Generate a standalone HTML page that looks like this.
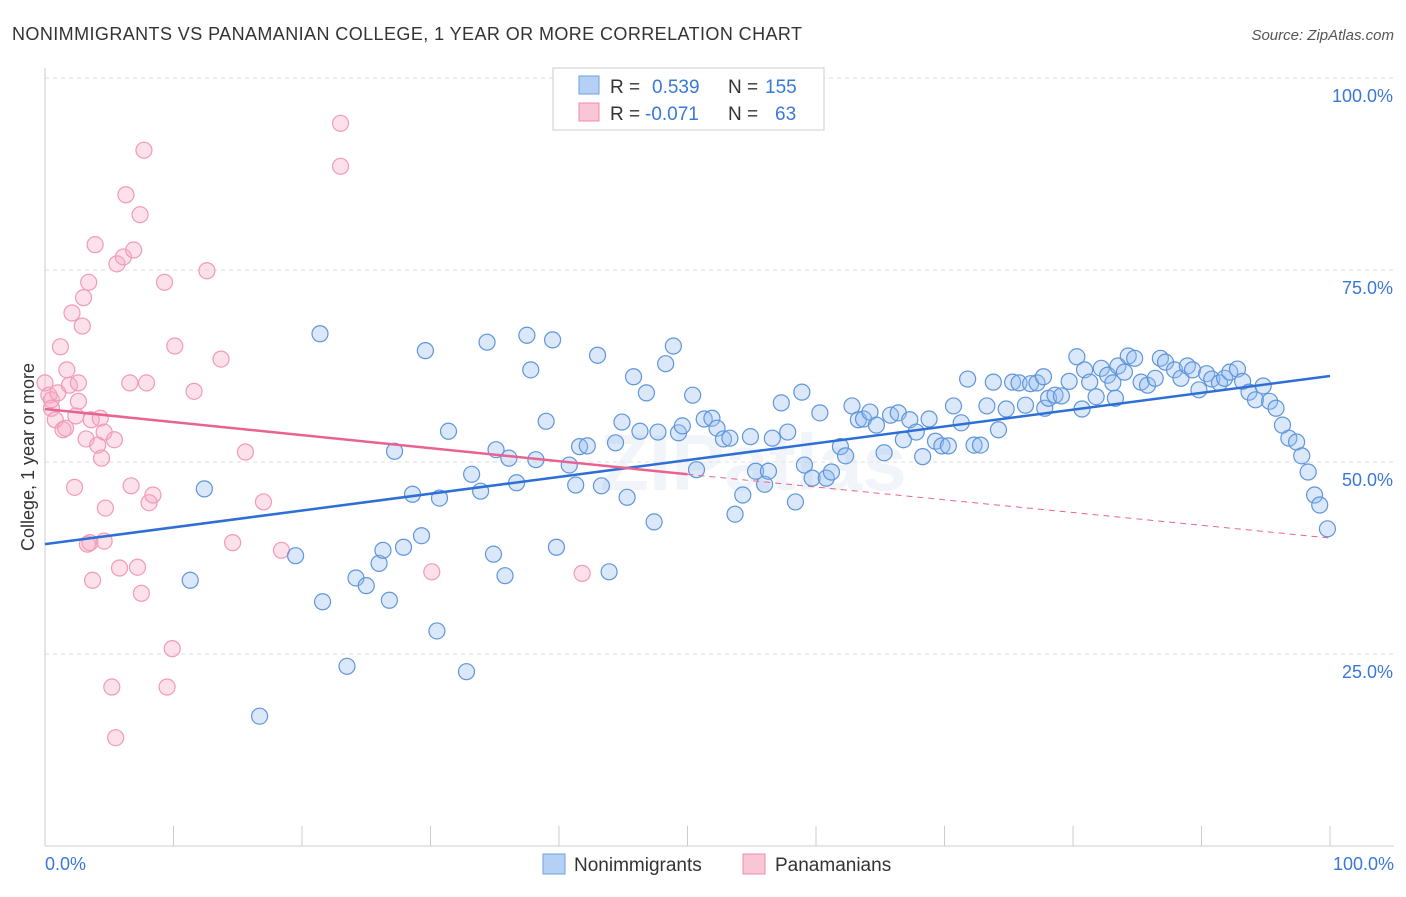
<!DOCTYPE html>
<html><head><meta charset="utf-8"><style>
body{margin:0;background:#fff;font-family:"Liberation Sans",sans-serif;}
svg text{font-family:"Liberation Sans",sans-serif;}
</style></head><body>
<svg id="chart" width="1406" height="892" viewBox="0 0 1406 892">
<text x="12" y="40" font-size="18" fill="#333" textLength="790" lengthAdjust="spacing">NONIMMIGRANTS VS PANAMANIAN COLLEGE, 1 YEAR OR MORE CORRELATION CHART</text>
<text x="1394" y="40" font-size="15" fill="#555" font-style="italic" text-anchor="end">Source: ZipAtlas.com</text>
<g id="grid"></g>
<text x="600" y="490" font-size="80" font-weight="bold" fill="#e4ebf3" opacity="0.5">ZIPatlas</text>
<g id="pts"></g>
<g id="trends"></g>
<text transform="translate(34,457) rotate(-90)" font-size="18" fill="#333" text-anchor="middle">College, 1 year or more</text>
<text x="45" y="870" font-size="18" fill="#3a78d8">0.0%</text>
<text x="1394" y="870" font-size="18" fill="#3a78d8" text-anchor="end">100.0%</text>
<g>
<rect x="553" y="68" width="271" height="62" fill="#fff" stroke="#ccc"/>
<rect x="579" y="76" width="20" height="18" fill="#b5d0f5" stroke="#6fa0e0"/>
<rect x="579" y="103" width="20" height="18" fill="#f9c6d6" stroke="#f08cab"/>
<text x="610" y="93" font-size="19" fill="#333">R = <tspan fill="#3a78d8" x="652">0.539</tspan><tspan x="728">N = </tspan><tspan fill="#3a78d8" x="765">155</tspan></text>
<text x="610" y="120" font-size="19" fill="#333">R = <tspan fill="#3a78d8" x="645">-0.071</tspan><tspan x="728">N = </tspan><tspan fill="#3a78d8" x="775">63</tspan></text>
</g>
<g>
<rect x="543" y="854" width="22" height="20" fill="#b5d0f5" stroke="#6fa0e0"/>
<text x="574" y="871" font-size="19" fill="#333">Nonimmigrants</text>
<rect x="743" y="854" width="22" height="20" fill="#f9c6d6" stroke="#f08cab"/>
<text x="775" y="871" font-size="19" fill="#333">Panamanians</text>
</g>
</svg>
<script>
const xTicks=[0,10,20,30,40,50,60,70,80,90,100];
const yTicks=[25,50,75,100];
const yTickLabels=["25.0%","50.0%","75.0%","100.0%"];
const blueX=[11.3,12.4,16.7,19.5,21.4,21.6,23.5,24.2,25.0,26.0,26.3,26.8,27.2,27.9,28.6,29.3,29.6,30.5,30.7,31.4,32.8,33.2,33.9,34.4,34.9,35.1,35.8,36.1,36.7,37.5,37.8,38.2,39.0,39.5,39.8,40.8,41.3,41.6,42.2,43.0,43.3,43.9,44.4,44.9,45.3,45.8,46.3,46.8,47.4,47.7,48.3,48.9,49.3,49.6,50.4,50.7,51.3,51.9,52.3,52.8,53.3,53.7,54.3,54.9,55.3,56.0,56.3,56.6,57.3,57.8,58.4,58.9,59.1,59.7,60.3,60.8,61.2,61.9,62.3,62.8,63.3,63.7,64.2,64.7,65.3,65.8,66.4,66.8,67.3,67.8,68.3,68.8,69.3,69.8,70.3,70.7,71.3,71.8,72.3,72.8,73.3,73.8,74.2,74.8,75.3,75.8,76.3,76.7,77.2,77.7,77.8,78.1,78.6,79.1,79.7,80.3,80.7,80.9,81.3,81.8,82.2,82.7,83.1,83.3,83.5,84.0,84.3,84.8,85.3,85.8,86.4,86.8,87.2,87.9,88.4,88.9,89.3,89.8,90.4,90.8,91.4,91.8,92.2,92.8,93.2,93.7,94.2,94.8,95.3,95.8,96.3,96.8,97.4,97.8,98.3,98.8,99.2,99.8];
const blueY=[34.6,46.5,16.9,37.8,66.7,31.8,23.4,34.9,33.9,36.8,38.5,32.0,51.4,38.9,45.8,40.4,64.5,28.0,45.3,54.0,22.7,48.4,46.2,65.6,38.0,51.6,35.2,50.5,47.3,66.5,62.0,50.3,55.3,65.9,38.9,49.6,47.0,52.0,52.1,63.9,46.9,35.7,52.5,55.2,45.4,61.1,54.0,59.0,42.2,53.9,62.8,65.1,53.8,54.7,58.7,49.0,55.6,55.7,54.4,53.0,53.1,43.2,45.7,53.3,48.8,47.1,48.8,53.1,57.7,53.9,44.8,59.1,49.6,47.9,56.4,47.9,48.7,52.0,50.8,57.3,55.5,55.6,56.5,54.8,51.2,56.1,56.4,52.9,55.5,53.9,50.7,55.6,52.7,52.1,52.1,57.3,55.1,60.8,52.2,52.2,57.3,60.4,54.2,56.9,60.4,60.3,57.4,60.2,60.3,61.1,57.0,58.3,58.7,58.6,60.5,63.7,56.9,62.0,60.4,58.5,62.2,61.3,60.3,58.3,62.5,61.7,63.8,63.5,60.4,60.0,60.9,63.5,63.0,62.0,60.9,62.5,62.0,59.4,61.5,60.8,60.3,60.9,61.7,62.1,60.5,59.1,58.1,59.9,57.9,57.0,54.8,53.1,52.6,50.8,48.7,45.7,44.4,41.3];
const pinkX=[0.0,0.3,0.5,0.5,0.8,1.0,1.2,1.4,1.6,1.7,1.9,2.1,2.3,2.4,2.6,2.6,2.9,3.0,3.2,3.3,3.4,3.5,3.6,3.7,3.9,4.1,4.3,4.4,4.6,4.6,4.7,5.2,5.4,5.5,5.6,5.8,6.1,6.3,6.6,6.7,6.9,7.2,7.4,7.5,7.7,7.9,8.1,8.4,9.3,9.5,9.9,10.1,11.6,12.6,13.7,14.6,15.6,17.0,18.4,23.0,23.0,30.1,41.8];
const pinkY=[60.3,58.7,57.0,58.1,55.5,59.0,65.0,54.2,54.4,62.0,60.0,69.4,46.7,56.0,60.3,57.9,67.7,71.4,53.0,39.3,73.4,39.5,55.5,34.6,78.3,52.2,55.7,50.5,39.7,53.9,44.0,20.7,52.9,14.1,75.8,36.2,76.7,84.8,60.3,46.9,77.6,36.3,82.2,32.9,90.6,60.3,44.7,45.7,73.4,20.7,25.7,65.1,59.2,74.9,63.4,39.5,51.3,44.8,38.5,94.1,88.5,35.7,35.5];
const blueTrendX=[0,100];
const blueTrendY=[39.3,61.2];
const pinkTrendX=[0,50,100];
const pinkTrendY=[56.9,48.4,40.1];

const NS="http://www.w3.org/2000/svg";
const X0=45,X1=1330,YB=846,YT=78;
function sx(v){return X0+(X1-X0)*v/100;}
function sy(v){return YB-(YB-YT)*v/100;}
function mk(tag,attrs,parent){const e=document.createElementNS(NS,tag);for(const k in attrs)e.setAttribute(k,attrs[k]);parent.appendChild(e);return e;}
const grid=document.getElementById('grid');
yTicks.forEach((t,i)=>{
  const l=mk('line',{x1:X0,x2:1394,y1:sy(t),y2:sy(t),stroke:'#ddd','stroke-dasharray':'4,4'},grid);
  
  
  const tx=mk('text',{x:1393,y:sy(t)+24,'font-size':18,fill:'#3a78d8','text-anchor':'end'},grid);
  tx.textContent=yTickLabels[i];
  
  
});
const ax=mk('line',{x1:X0,x2:X0,y1:68,y2:YB,stroke:'#ccc'},grid);


const bx=mk('line',{x1:X0,x2:1394,y1:YB,y2:YB,stroke:'#ccc'},grid);


xTicks.forEach(t=>{
  const l=mk('line',{x1:sx(t),x2:sx(t),y1:826,y2:YB,stroke:'#ccc'},grid);
  
  
});
const pts=document.getElementById('pts');
pinkX.forEach((v,i)=>{
  const c=mk('circle',{cx:sx(v),cy:sy(pinkY[i]),r:8,fill:'rgba(245,170,195,0.35)',stroke:'#f29ab5','stroke-width':1.2},pts);
  
  
});
blueX.forEach((v,i)=>{
  const c=mk('circle',{cx:sx(v),cy:sy(blueY[i]),r:8,fill:'rgba(150,190,240,0.35)',stroke:'#5f95dc','stroke-width':1.2},pts);
  
  
});
const tr=document.getElementById('trends');
const bl=mk('line',{x1:sx(blueTrendX[0]),y1:sy(blueTrendY[0]),x2:sx(blueTrendX[1]),y2:sy(blueTrendY[1]),stroke:'#2e6fd6','stroke-width':2.5},tr);


const pl=mk('line',{x1:sx(pinkTrendX[0]),y1:sy(pinkTrendY[0]),x2:sx(pinkTrendX[1]),y2:sy(pinkTrendY[1]),stroke:'#e8638f','stroke-width':2.5},tr);


const pd=mk('line',{x1:sx(pinkTrendX[1]),y1:sy(pinkTrendY[1]),x2:sx(pinkTrendX[2]),y2:sy(pinkTrendY[2]),stroke:'#e8638f','stroke-width':1,'stroke-dasharray':'6,5'},tr);


</script>
</body></html>
